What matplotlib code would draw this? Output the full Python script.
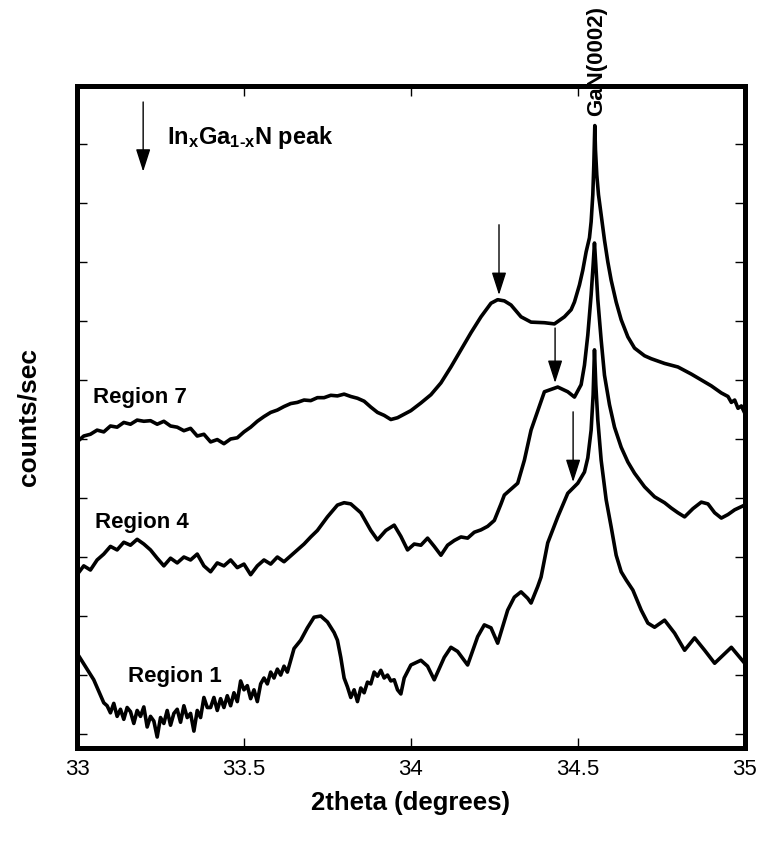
import matplotlib
matplotlib.use("Agg")
import matplotlib.pyplot as plt

plt.rcParams['font.family'] = ['Liberation Sans', 'DejaVu Sans']
plt.rcParams['mathtext.fontset'] = 'custom'
plt.rcParams['mathtext.rm'] = 'Liberation Sans:bold'
plt.rcParams['mathtext.bf'] = 'Liberation Sans:bold'
plt.rcParams['mathtext.it'] = 'Liberation Sans:bold'

# ---- data (2theta in degrees, intensity in arbitrary offset units) ----
r7_x = [33.00, 33.02, 33.04, 33.06, 33.08, 33.10, 33.12, 33.14, 33.16, 33.18,
        33.20, 33.22, 33.24, 33.26, 33.28, 33.30, 33.32, 33.34, 33.36, 33.38,
        33.40, 33.42, 33.44, 33.46, 33.48, 33.50, 33.52, 33.54, 33.56, 33.58,
        33.60, 33.62, 33.64, 33.66, 33.68, 33.70, 33.72, 33.74, 33.76, 33.78,
        33.80, 33.82, 33.84, 33.86, 33.88, 33.90, 33.92, 33.94, 33.96, 33.98,
        34.00, 34.03, 34.06, 34.09, 34.12, 34.15, 34.18, 34.21, 34.24, 34.26,
        34.28, 34.30, 34.33, 34.36, 34.40, 34.43, 34.46, 34.48, 34.49, 34.505,
        34.515, 34.525, 34.535, 34.54, 34.545, 34.548, 34.551, 34.553, 34.557, 34.562,
        34.57, 34.58, 34.59, 34.60, 34.615, 34.63, 34.65, 34.67, 34.70, 34.72,
        34.76, 34.80, 34.84, 34.87, 34.90, 34.93, 34.95, 34.96, 34.97, 34.98,
        34.99, 35.00]
r7_y = [5.95, 6.05, 6.08, 6.15, 6.12, 6.22, 6.20, 6.28, 6.25, 6.32,
        6.30, 6.31, 6.25, 6.30, 6.22, 6.20, 6.14, 6.18, 6.05, 6.08,
        5.95, 5.99, 5.92, 6.00, 6.02, 6.12, 6.20, 6.30, 6.38, 6.45,
        6.49, 6.55, 6.60, 6.62, 6.66, 6.65, 6.70, 6.70, 6.74, 6.73,
        6.76, 6.72, 6.69, 6.64, 6.54, 6.45, 6.40, 6.33, 6.36, 6.42,
        6.48, 6.61, 6.75, 6.95, 7.22, 7.51, 7.80, 8.07, 8.30, 8.36,
        8.34, 8.27, 8.07, 7.98, 7.97, 7.95, 8.07, 8.19, 8.32, 8.61,
        8.86, 9.17, 9.41, 9.68, 10.14, 10.64, 11.31, 10.90, 10.47, 10.14,
        9.80, 9.37, 9.00, 8.69, 8.32, 8.02, 7.73, 7.54, 7.41, 7.36,
        7.28, 7.22, 7.10, 7.00, 6.90, 6.78, 6.72, 6.62, 6.66, 6.52,
        6.56, 6.44]

r4_x = [33.00, 33.02, 33.04, 33.06, 33.08, 33.10, 33.12, 33.14, 33.16, 33.18,
        33.20, 33.22, 33.24, 33.26, 33.28, 33.30, 33.32, 33.34, 33.36, 33.38,
        33.40, 33.42, 33.44, 33.46, 33.48, 33.50, 33.52, 33.54, 33.56, 33.58,
        33.60, 33.62, 33.64, 33.66, 33.68, 33.70, 33.72, 33.75, 33.78, 33.80,
        33.82, 33.85, 33.88, 33.90, 33.925, 33.95, 33.97, 33.99, 34.01, 34.03,
        34.05, 34.07, 34.09, 34.11, 34.13, 34.15, 34.17, 34.19, 34.21, 34.23,
        34.25, 34.27, 34.28, 34.30, 34.32, 34.34, 34.36, 34.40, 34.44, 34.47,
        34.49, 34.51, 34.52, 34.53, 34.54, 34.546, 34.55, 34.554, 34.56, 34.57,
        34.58, 34.595, 34.61, 34.63, 34.65, 34.67, 34.70, 34.73, 34.76, 34.78,
        34.80, 34.82, 34.845, 34.87, 34.89, 34.91, 34.93, 34.95, 34.97, 35.00]
r4_y = [3.70, 3.85, 3.78, 3.95, 4.05, 4.18, 4.12, 4.25, 4.20, 4.30,
        4.22, 4.12, 3.98, 3.85, 3.98, 3.90, 4.00, 3.95, 4.05, 3.85,
        3.75, 3.90, 3.85, 3.95, 3.82, 3.88, 3.70, 3.85, 3.95, 3.88,
        4.00, 3.92, 4.02, 4.12, 4.22, 4.34, 4.45, 4.68, 4.88, 4.92,
        4.90, 4.75, 4.45, 4.29, 4.45, 4.54, 4.35, 4.12, 4.22, 4.20,
        4.32, 4.18, 4.03, 4.20, 4.28, 4.34, 4.32, 4.42, 4.46, 4.52,
        4.62, 4.90, 5.05, 5.15, 5.25, 5.64, 6.15, 6.80, 6.88, 6.80,
        6.71, 6.92, 7.25, 7.76, 8.44, 8.95, 9.32, 8.95, 8.36, 7.68,
        7.08, 6.58, 6.20, 5.86, 5.61, 5.42, 5.19, 5.02, 4.92, 4.83,
        4.75, 4.68, 4.82, 4.93, 4.90, 4.75, 4.66, 4.72, 4.80, 4.88]

r1_x = [33.00, 33.03, 33.05, 33.08, 33.09, 33.10, 33.11, 33.12, 33.13, 33.14,
        33.15, 33.16, 33.17, 33.18, 33.19, 33.20, 33.21, 33.22, 33.23, 33.24,
        33.25, 33.26, 33.27, 33.28, 33.29, 33.30, 33.31, 33.32, 33.33, 33.34,
        33.35, 33.36, 33.37, 33.38, 33.39, 33.40, 33.41, 33.42, 33.43, 33.44,
        33.45, 33.46, 33.47, 33.48, 33.49, 33.50, 33.51, 33.52, 33.53, 33.54,
        33.55, 33.56, 33.57, 33.58, 33.59, 33.60, 33.61, 33.62, 33.63, 33.64,
        33.65, 33.67, 33.69, 33.71, 33.73, 33.75, 33.77, 33.78, 33.79, 33.80,
        33.81, 33.82, 33.83, 33.84, 33.85, 33.86, 33.87, 33.88, 33.89, 33.90,
        33.91, 33.92, 33.93, 33.94, 33.95, 33.96, 33.97, 33.98, 34.00, 34.03,
        34.05, 34.07, 34.10, 34.12, 34.14, 34.17, 34.20, 34.22, 34.24, 34.26,
        34.29, 34.31, 34.33, 34.35, 34.36, 34.38, 34.39, 34.41, 34.44, 34.47,
        34.50, 34.52, 34.53, 34.54, 34.546, 34.55, 34.554, 34.56, 34.57, 34.585,
        34.60, 34.615, 34.63, 34.645, 34.665, 34.69, 34.71, 34.73, 34.76, 34.79,
        34.82, 34.85, 34.88, 34.91, 34.96, 35.00]
r1_y = [2.37, 2.10, 1.92, 1.53, 1.48, 1.36, 1.52, 1.30, 1.42, 1.25,
        1.45, 1.38, 1.18, 1.40, 1.30, 1.46, 1.12, 1.30, 1.22, 0.95,
        1.28, 1.18, 1.40, 1.15, 1.35, 1.42, 1.20, 1.48, 1.28, 1.35,
        1.05, 1.40, 1.28, 1.62, 1.45, 1.45, 1.62, 1.40, 1.60, 1.45,
        1.65, 1.48, 1.70, 1.55, 1.90, 1.75, 1.82, 1.60, 1.75, 1.55,
        1.85, 1.95, 1.85, 2.05, 1.95, 2.10, 2.00, 2.15, 2.05, 2.25,
        2.45, 2.59, 2.80, 2.98, 3.00, 2.90, 2.72, 2.59, 2.30, 1.95,
        1.80, 1.62, 1.75, 1.55, 1.78, 1.70, 1.88, 1.85, 2.05, 1.98,
        2.08, 1.95, 2.00, 1.90, 1.92, 1.75, 1.68, 1.95, 2.17, 2.25,
        2.15, 1.92, 2.30, 2.47, 2.40, 2.17, 2.65, 2.85, 2.80, 2.54,
        3.10, 3.32, 3.41, 3.30, 3.22, 3.50, 3.66, 4.24, 4.68, 5.08,
        5.25, 5.44, 5.68, 6.15, 6.75, 7.51, 6.92, 6.32, 5.64, 4.97,
        4.51, 4.03, 3.75, 3.61, 3.44, 3.10, 2.88, 2.81, 2.93, 2.71,
        2.42, 2.63, 2.42, 2.20, 2.47, 2.20]

region_labels = ["Region 7", "Region 4", "Region 1"]
label_x = [33.048, 33.054, 33.153]
label_y = [6.71, 4.58, 1.97]

# InGaN peak arrows: (x, tail y, head y)
arrow_x = [34.264, 34.432, 34.486]
arrow_tail = [9.63, 7.88, 6.46]
arrow_head = [8.44, 6.95, 5.27]

x_ticks = [33, 33.5, 34, 34.5, 35]
x_ticklabels = ["33", "33.5", "34", "34.5", "35"]
y_ticks = list(range(1, 12))

fig = plt.figure(figsize=(7.63, 8.52), dpi=100)
ax = fig.add_axes([0.101, 0.122, 0.875, 0.777])

for xs, ys in [(r7_x, r7_y), (r4_x, r4_y), (r1_x, r1_y)]:
    ax.plot(xs, ys, color='black', lw=2.6, solid_joinstyle='round')

for lab, lx, ly in zip(region_labels, label_x, label_y):
    ax.text(lx, ly, lab, fontsize=16, fontweight='bold', ha='left', va='center')

arrowprops = dict(arrowstyle='-|>,head_length=1.4,head_width=0.45', color='black',
                  lw=1.0, shrinkA=0, shrinkB=0)
for axx, t0, t1 in zip(arrow_x, arrow_tail, arrow_head):
    ax.annotate('', xy=(axx, t1), xytext=(axx, t0), arrowprops=arrowprops)

# legend-like key
ax.annotate('', xy=(33.198, 10.53), xytext=(33.198, 11.71), arrowprops=arrowprops)
ax.text(33.27, 11.0, r'$\mathbf{In_{x}Ga_{1\text{-}x}N}$' + ' peak', fontsize=17,
        fontweight='bold', ha='left', va='baseline')

ax.text(34.556, 12.40, 'GaN(0002)', rotation=90, fontsize=16, fontweight='bold',
        ha='center', va='center', clip_on=False)

ax.set_xlim(33, 35)
ax.set_ylim(0.763, 11.98)
ax.set_xticks(x_ticks)
ax.set_xticklabels(x_ticklabels)
ax.set_yticks(y_ticks)
ax.set_yticklabels([])
ax.tick_params(axis='both', direction='in', length=7, width=1, top=True, right=True,
               labelsize=16, pad=8)
for s in ax.spines.values():
    s.set_linewidth(3.6)

ax.set_xlabel('2theta (degrees)', fontsize=18.5, fontweight='bold', labelpad=8)
ax.set_ylabel('counts/sec', fontsize=19, fontweight='bold', labelpad=18)

fig.savefig('out.png', dpi=100)
